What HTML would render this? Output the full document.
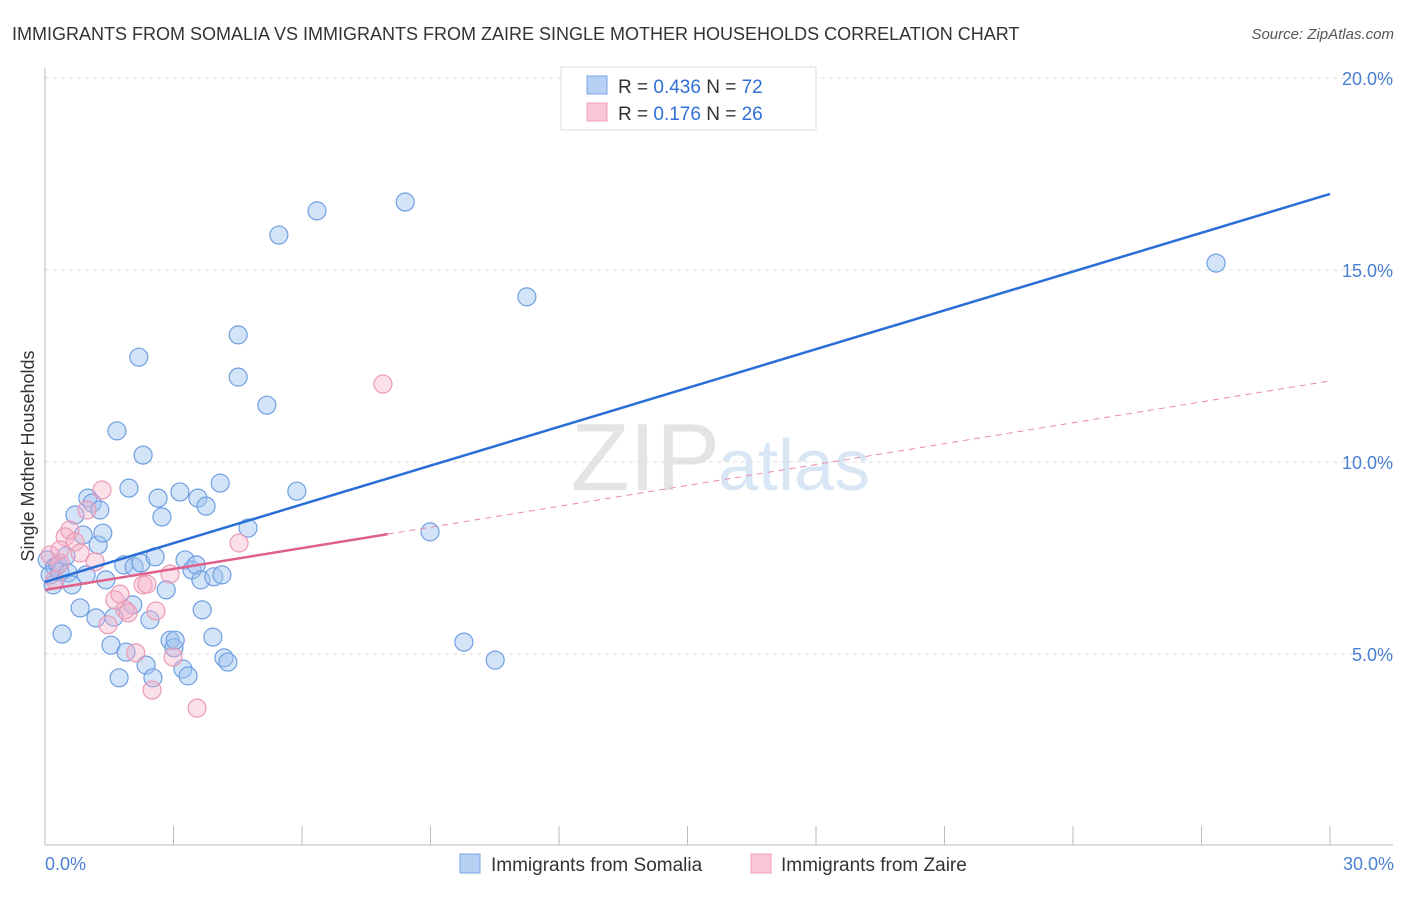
<!DOCTYPE html>
<html><head><meta charset="utf-8"><style>
body{margin:0;background:#fff;font-family:"Liberation Sans",sans-serif}
svg text{font-family:"Liberation Sans",sans-serif}
</style></head><body>
<svg width="1406" height="892" xmlns="http://www.w3.org/2000/svg">
<text x="12" y="40" font-size="18" fill="#333">IMMIGRANTS FROM SOMALIA VS IMMIGRANTS FROM ZAIRE SINGLE MOTHER HOUSEHOLDS CORRELATION CHART</text>
<text x="1394" y="39" font-size="15" fill="#555" text-anchor="end" font-style="italic">Source: ZipAtlas.com</text>
<text x="720" y="490" font-size="96" fill="#e4e4e4" text-anchor="end" font-family="Liberation Serif">ZIP</text>
<text x="718" y="490" font-size="72" fill="#d8e6f6">atlas</text>
<g id="grid"></g>
<g id="axes"></g>
<g id="pts"></g>
<g id="lines"></g>
<text x="34" y="456" font-size="18" fill="#333" text-anchor="middle" transform="rotate(-90 34 456)">Single Mother Households</text>
<text x="45" y="870" font-size="18" fill="#4a7fd4">0.0%</text>
<text x="1394" y="870" font-size="18" fill="#4a7fd4" text-anchor="end">30.0%</text>
<g>
<rect x="561" y="67" width="255" height="63" fill="#fff" stroke="#ddd"/>
<rect x="587" y="76" width="20" height="18" fill="#b7d1f5" stroke="#7aa5e4"/>
<rect x="587" y="103" width="20" height="18" fill="#f9c6d6" stroke="#eea0bb"/>
<text x="618" y="93" font-size="19" fill="#333">R = <tspan fill="#2f6fd6">0.436</tspan>   N = <tspan fill="#2f6fd6">72</tspan></text>
<text x="618" y="120" font-size="19" fill="#333">R =  <tspan fill="#2f6fd6">0.176</tspan>   N = <tspan fill="#2f6fd6">26</tspan></text>
</g>
<g>
<rect x="460" y="854" width="20" height="19" fill="#b7d1f5" stroke="#7aa5e4"/>
<text x="491" y="871" font-size="19" fill="#333">Immigrants from Somalia</text>
<rect x="751" y="854" width="20" height="19" fill="#f9c6d6" stroke="#eea0bb"/>
<text x="781" y="871" font-size="19" fill="#333">Immigrants from Zaire</text>
</g>
</svg>
<script>
const yTicks=[5,10,15,20];
const yTickLabels=["5.0%","10.0%","15.0%","20.0%"];
const xTicks=[0,3,6,9,12,15,18,21,24,27,30];
const somaliaX=[0.05,0.12,0.23,0.19,0.30,0.35,0.40,0.49,0.54,0.63,0.70,0.82,0.89,0.96,1.00,1.10,1.19,1.24,1.28,1.35,1.42,1.54,1.61,1.68,1.73,1.84,1.89,1.96,2.05,2.08,2.19,2.24,2.29,2.36,2.45,2.52,2.57,2.64,2.73,2.83,2.92,3.01,3.04,3.15,3.22,3.27,3.34,3.43,3.53,3.57,3.64,3.67,3.76,3.92,3.94,4.09,4.13,4.18,4.27,4.51,4.51,4.74,5.18,5.46,5.88,6.35,8.41,8.99,9.78,10.51,11.25,27.34];
const somaliaY=[7.45,7.06,7.27,6.80,7.32,7.14,5.52,7.55,7.11,6.80,8.62,6.20,8.10,7.06,9.06,8.93,5.94,7.84,8.75,8.15,6.93,5.23,5.96,10.81,4.38,7.32,5.05,9.32,6.28,7.27,12.73,7.37,10.18,4.71,5.89,4.38,7.53,9.06,8.57,6.67,5.36,5.16,5.36,9.22,4.61,7.45,4.43,7.19,7.32,9.06,6.93,6.15,8.85,5.44,7.01,9.45,7.06,4.90,4.79,13.31,12.21,8.28,11.48,15.91,9.24,16.54,16.77,8.18,5.31,4.84,14.30,15.18];
const zaireX=[0.12,0.23,0.35,0.47,0.58,0.70,0.82,0.98,1.17,1.33,1.47,1.63,1.75,1.87,1.94,2.12,2.29,2.38,2.50,2.59,2.92,2.99,3.55,4.53,7.89,0.35];
const zaireY=[7.58,6.93,7.37,8.05,8.23,7.92,7.63,8.75,7.40,9.27,5.76,6.41,6.56,6.15,6.07,5.03,6.80,6.82,4.06,6.12,7.08,4.92,3.59,7.89,12.03,7.71];
const somaliaTrend=[6.875,16.98];
const zaireTrend=[6.67,12.11];
const zaireSolidEnd=8.0;
const NS="http://www.w3.org/2000/svg";
const X=v=>45+v/30*1285;
const Y=v=>846-v*38.4;
function mk(tag,attrs,parent){const e=document.createElementNS(NS,tag);for(const k in attrs)e.setAttribute(k,attrs[k]);document.getElementById(parent).appendChild(e);return e;}
yTicks.forEach((t,i)=>{
 const l=mk('line',{x1:45,x2:1393,y1:Y(t),y2:Y(t),stroke:'#ddd','stroke-dasharray':'4,4'},'grid');
 
 
 const tx=mk('text',{x:1393,y:Y(t)+7,'font-size':18,fill:'#4a7fd4','text-anchor':'end'},'grid');
 tx.textContent=yTickLabels[i];
 
 
});
const ax=mk('line',{x1:45,x2:1393,y1:845,y2:845,stroke:'#bbb'},'axes');


const ay=mk('line',{x1:45,x2:45,y1:68,y2:845,stroke:'#bbb'},'axes');


xTicks.forEach(t=>{
 const l=mk('line',{x1:X(t),x2:X(t),y1:826,y2:845,stroke:'#bbb'},'axes');
 
 
});
somaliaX.forEach((x,i)=>{
 const c=mk('circle',{cx:X(x),cy:Y(somaliaY[i]),r:9,fill:'rgba(160,195,240,0.45)',stroke:'#6f9fe2','stroke-width':1.2},'pts');
 
 
});
zaireX.forEach((x,i)=>{
 const c=mk('circle',{cx:X(x),cy:Y(zaireY[i]),r:9,fill:'rgba(246,175,200,0.4)',stroke:'#eb9ab6','stroke-width':1.2},'pts');
 
 
});
const zAt=x=>zaireTrend[0]+(zaireTrend[1]-zaireTrend[0])*x/30;
const zd=mk('line',{x1:X(zaireSolidEnd),y1:Y(zAt(zaireSolidEnd)),x2:X(30),y2:Y(zaireTrend[1]),stroke:'#e98aab','stroke-width':1,'stroke-dasharray':'6,5'},'lines');


const zs=mk('line',{x1:X(0),y1:Y(zaireTrend[0]),x2:X(zaireSolidEnd),y2:Y(zAt(zaireSolidEnd)),stroke:'#e0608a','stroke-width':2.5},'lines');


const bl=mk('line',{x1:X(0),y1:Y(somaliaTrend[0]),x2:X(30),y2:Y(somaliaTrend[1]),stroke:'#2a6fd8','stroke-width':2.5},'lines');


</script>
</body></html>
